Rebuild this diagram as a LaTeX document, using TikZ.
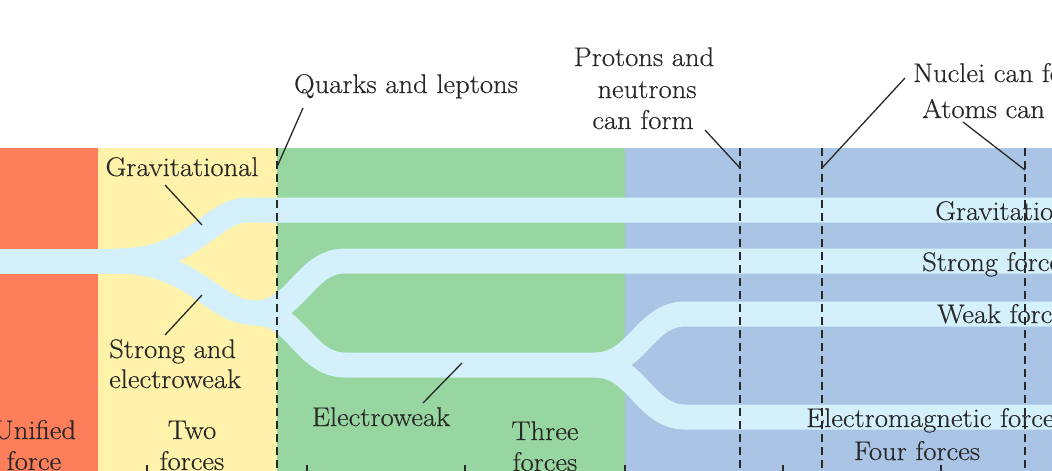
\documentclass[tikz,border=0pt]{standalone}
\usepackage{fontspec}
\setmainfont{Latin Modern Roman}[FakeStretch=1.06, FakeBold=0.4]
\definecolor{cred}{RGB}{253,126,90}
\definecolor{cyel}{RGB}{255,243,171}
\definecolor{cgrn}{RGB}{151,214,160}
\definecolor{cblu}{RGB}{170,196,229}
\definecolor{cband}{RGB}{211,240,251}
\definecolor{ctxt}{RGB}{40,40,40}
\begin{document}
\begin{tikzpicture}[x=1pt,y=-1pt,
  lbl/.style={font=\fontsize{27}{31}\selectfont, text=ctxt, inner sep=0pt},
  band/.style={draw=cband, line width=25pt, line cap=butt},
  leader/.style={draw=ctxt, line width=1.3pt},
  era/.style={draw=ctxt, line width=1.4pt, dash pattern=on 8pt off 5pt},
  tickmark/.style={draw=ctxt, line width=1.2pt}]
\useasboundingbox (0,0) rectangle (1052,471);
\clip (0,0) rectangle (1052,471);
% era backgrounds
\fill[cred] (0,148) rectangle (98,471);
\fill[cyel] (98,148) rectangle (277,471);
\fill[cgrn] (277,148) rectangle (625,471);
\fill[cblu] (625,148) rectangle (1052,471);
% force bands
\coordinate (f1) at (116,261);
\coordinate (f2) at (256,313);
\coordinate (f3) at (595,365);
\draw[band] (-10,261) -- (f1);
\draw[band] (f1) .. controls (196,261) and (210,210) .. (248,210) -- (1060,210);
\draw[band] (f1) .. controls (196,261) and (212,313) .. (f2);
\draw[band] (f2) .. controls (296,313) and (305,261) .. (345,261) -- (1060,261);
\draw[band] (f2) .. controls (296,313) and (305,365) .. (345,365) -- (f3);
\draw[band] (f3) .. controls (637,365) and (645,314) .. (685,314) -- (1060,314);
\draw[band] (f3) .. controls (637,365) and (645,417) .. (685,417) -- (1060,417);
% dashed era boundaries
\coordinate (d1t) at (277,148); \coordinate (d1b) at (277,472);
\coordinate (d2t) at (740,148); \coordinate (d2b) at (740,472);
\coordinate (d3t) at (822,148); \coordinate (d3b) at (822,472);
\coordinate (d4t) at (1025,148); \coordinate (d4b) at (1025,472);
\draw[era] (d1t) -- (d1b);
\draw[era] (d2t) -- (d2b);
\draw[era] (d3t) -- (d3b);
\draw[era] (d4t) -- (d4b);
% ticks at bottom
\foreach \tx [count=\i] in {147,307,465,625,783,941} {
  \coordinate (tk\i a) at (\tx,465);
  \coordinate (tk\i b) at (\tx,472);
  \draw[tickmark] (tk\i a) -- (tk\i b);
}
% labels
\node[lbl, anchor=base] (ql) at (406,93) {Quarks and leptons};
\node[lbl, anchor=base] (pn1) at (644,66) {Protons and};
\node[lbl, anchor=base] (pn2) at (647,98) {neutrons};
\node[lbl, anchor=base] (pn3) at (643,129) {can form};
\node[lbl, anchor=base west] (nc) at (913,82) {Nuclei can form};
\node[lbl, anchor=base west] (ac) at (922,118) {Atoms can form};
\node[lbl, anchor=base] (gl) at (182,176) {Gravitational};
\node[lbl, anchor=base west] (se1) at (109,358) {Strong and};
\node[lbl, anchor=base west] (se2) at (109,388) {electroweak};
\node[lbl, anchor=base] (uf1) at (35,439) {Unified};
\node[lbl, anchor=base] (uf2) at (34,470) {force};
\node[lbl, anchor=base] (tf1) at (192,439) {Two};
\node[lbl, anchor=base] (tf2) at (192,470) {forces};
\node[lbl, anchor=base] (ewl) at (381,426) {Electroweak};
\node[lbl, anchor=base] (th1) at (545,440) {Three};
\node[lbl, anchor=base] (th2) at (545,471) {forces};
\node[lbl, anchor=base] (ff) at (917,460) {Four forces};
\node[lbl, anchor=base west] (gf) at (935,220) {Gravitational force};
\node[lbl, anchor=base west] (sf) at (922,271) {Strong force};
\node[lbl, anchor=base west] (wf) at (937,323) {Weak force};
\node[lbl, anchor=base west] (emf) at (806,427) {Electromagnetic force};
% leader lines
\coordinate (qls) at (303,108);  \coordinate (qle) at (277,167);
\coordinate (pns) at (705,130);  \coordinate (pne) at (740,168);
\coordinate (ncs) at (905,78);   \coordinate (nce) at (822,168);
\coordinate (acs) at (963,122);  \coordinate (ace) at (1025,170);
\coordinate (gls) at (165,185);  \coordinate (gle) at (202,225);
\coordinate (ses) at (165,335);  \coordinate (see) at (202,295);
\coordinate (ews) at (423,403);  \coordinate (ewe) at (462,363);
\draw[leader] (qls) -- (qle);
\draw[leader] (pns) -- (pne);
\draw[leader] (ncs) -- (nce);
\draw[leader] (acs) -- (ace);
\draw[leader] (gls) -- (gle);
\draw[leader] (ses) -- (see);
\draw[leader] (ews) -- (ewe);
\end{tikzpicture}
\end{document}
